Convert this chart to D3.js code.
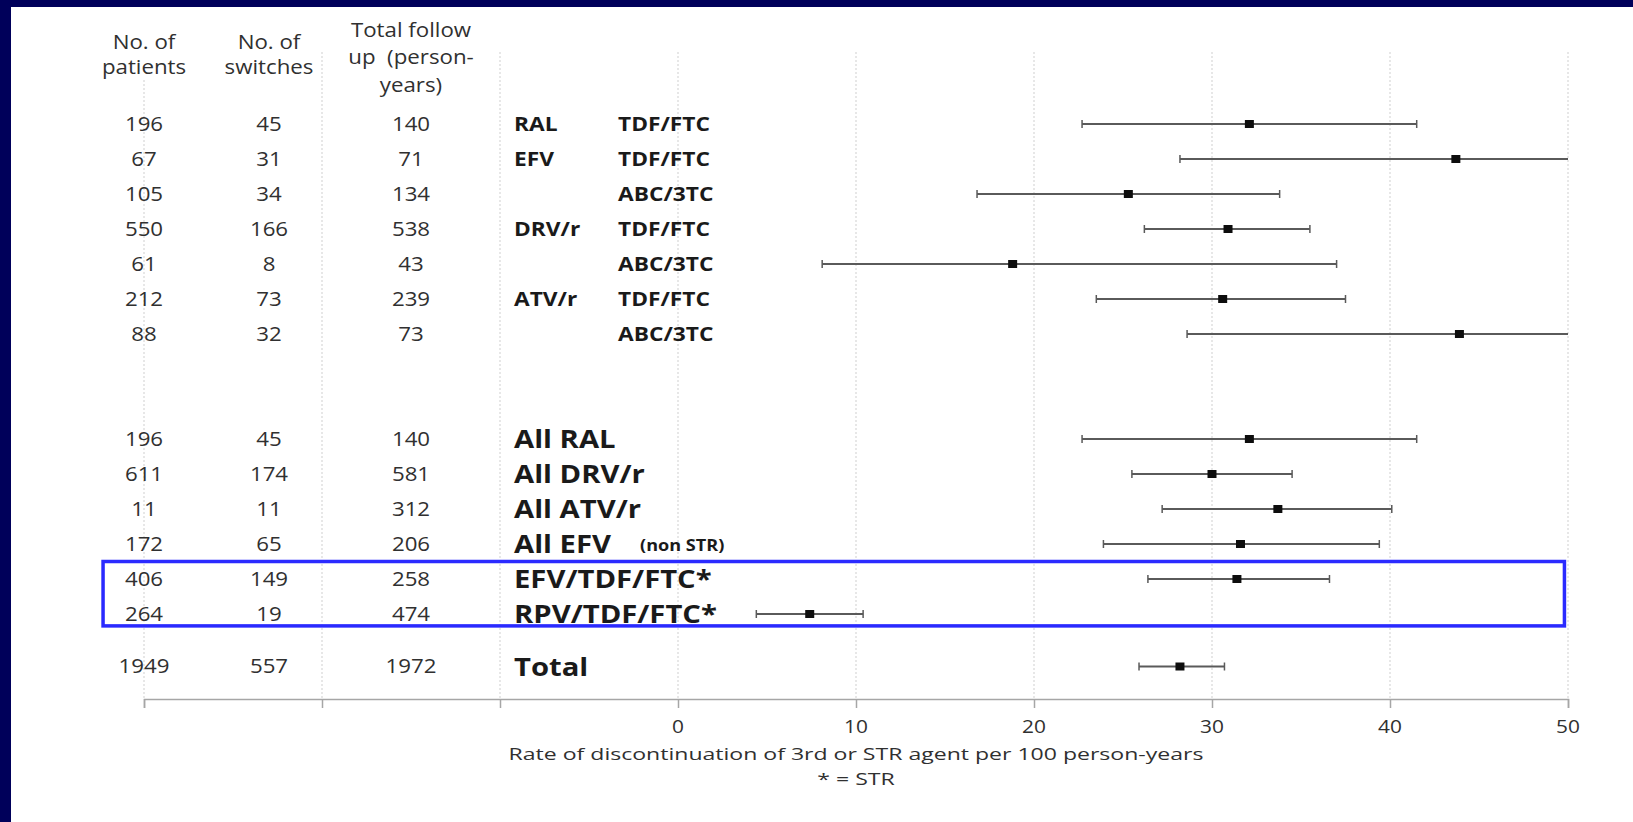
<!DOCTYPE html>
<html>
<head>
<meta charset="utf-8">
<script src="https://cdn.jsdelivr.net/npm/d3@7"></script>
<style>
  html, body { margin: 0; padding: 0; background: #00005a; }
  svg { display: block; }
  text { white-space: pre; }
</style>
</head>
<body>
<div id="chart"></div>
<script>
/* Forest plot - discontinuation rate of 3rd or STR agent */

// Table columns
const patients = [196, 67, 105, 550, 61, 212, 88, 196, 611, 11, 172, 406, 264, 1949];
const switches = [45, 31, 34, 166, 8, 73, 32, 45, 174, 11, 65, 149, 19, 557];
const followUp = [140, 71, 134, 538, 43, 239, 73, 140, 581, 312, 206, 258, 474, 1972];

// Row slot on the vertical axis (gaps between the blocks)
const rowSlot = [0, 1, 2, 3, 4, 5, 6, 9, 10, 11, 12, 13, 14, 15.5];

// Regimen labels: detail rows use two columns, summary rows one big label
const thirdAgent = ['RAL', 'EFV', '', 'DRV/r', '', 'ATV/r', ''];
const backbone = ['TDF/FTC', 'TDF/FTC', 'ABC/3TC', 'TDF/FTC', 'ABC/3TC', 'TDF/FTC', 'ABC/3TC'];
const summaryLabels = ['All RAL', 'All DRV/r', 'All ATV/r', 'All EFV', 'EFV/TDF/FTC*', 'RPV/TDF/FTC*', 'Total'];
const summaryNote = ['', '', '', '(non STR)', '', '', ''];

// Rate per 100 person-years with 95% CI
const rate = [32.1, 43.7, 25.3, 30.9, 18.8, 30.6, 43.9, 32.1, 30.0, 33.7, 31.6, 31.4, 7.4, 28.2];
const lower = [22.7, 28.2, 16.8, 26.2, 8.1, 23.5, 28.6, 22.7, 25.5, 27.2, 23.9, 26.4, 4.4, 25.9];
const upper = [41.5, 67.5, 33.8, 35.5, 37.0, 37.5, 67.0, 41.5, 34.5, 40.1, 39.4, 36.6, 10.4, 30.7];

// Axis
const xDomain = [-30, 50];
const xTickValues = [-30, -20, -10, 0, 10, 20, 30, 40, 50];
const headers = [
  { lines: ['No. of', 'patients'], col: 'patients' },
  { lines: ['No. of', 'switches'], col: 'switches' },
  { lines: ['Total follow', 'up  (person-', 'years)'], col: 'followUp' }
];
const axisTitle = 'Rate of discontinuation of 3rd or STR agent per 100 person-years';
const axisNote = '* = STR';

function initForest() {
  const width = 1633;
  const height = 822;
  const FONT = '"Open Sans", Lato, sans-serif';
  const STRETCH = 1.16; // the slide text is widened horizontally

  const svg = d3.select('#chart')
    .append('svg')
    .attr('width', width)
    .attr('height', height);

  // Navy slide frame, white panel
  svg.append('rect').attr('width', width).attr('height', height).attr('fill', '#00005a');
  svg.append('rect').attr('x', 11).attr('y', 7)
    .attr('width', width - 11).attr('height', height - 7).attr('fill', '#ffffff');

  const plotTop = 52;
  const axisY = 699;

  const x = d3.scaleLinear().domain(xDomain).range([144, 1568]);
  const y = d3.scaleLinear().domain([0, 15.5]).range([124, 666.5]);

  const colX = { patients: x(-30), switches: 269, followUp: 411 };

  function addText(parent, tx, ty, str, opts) {
    opts = opts || {};
    return parent.append('text')
      .attr('transform', `translate(${tx},${ty}) scale(${opts.stretch || STRETCH},1)`)
      .attr('text-anchor', opts.anchor || 'middle')
      .attr('dy', '0.36em')
      .attr('fill', opts.fill || '#303030')
      .attr('font-family', FONT)
      .attr('font-size', (opts.size || 19.2) + 'px')
      .attr('font-weight', opts.weight || 'normal')
      .text(str);
  }

  // Gridlines
  const grid = svg.append('g');
  grid.selectAll('.grid-line')
    .data(xTickValues)
    .enter()
    .append('line')
    .attr('class', 'grid-line')
    .attr('x1', d => x(d))
    .attr('x2', d => x(d))
    .attr('y1', plotTop)
    .attr('y2', axisY)
    .attr('stroke', '#cfcfcf')
    .attr('stroke-width', 1)
    .attr('stroke-dasharray', '2,2');

  // Headers (white boxes hide the gridline behind them)
  const headerLineY = [[41.7, 67.5], [41.7, 67.5], [30, 57.5, 85]];
  const headG = svg.append('g');
  headers.forEach((h, i) => {
    h.lines.forEach((line, j) => {
      const t = addText(headG, colX[h.col], headerLineY[i][j], line);
      const bb = t.node().getBBox();
      headG.insert('rect', 'text')
        .attr('x', colX[h.col] + bb.x * STRETCH - 2)
        .attr('y', headerLineY[i][j] + bb.y)
        .attr('width', bb.width * STRETCH + 4)
        .attr('height', bb.height)
        .attr('fill', '#ffffff');
    });
  });

  // Table numbers
  const tableG = svg.append('g');
  rowSlot.forEach((slot, i) => {
    addText(tableG, colX.patients, y(slot), patients[i]);
    addText(tableG, colX.switches, y(slot), switches[i]);
    addText(tableG, colX.followUp, y(slot), followUp[i]);
  });

  // Regimen labels
  const labelG = svg.append('g');
  const bold = { anchor: 'start', weight: 'bold', fill: '#1a1a1a', size: 19.6 };
  thirdAgent.forEach((d, i) => {
    if (d) addText(labelG, 514, y(rowSlot[i]), d, bold);
    addText(labelG, 618, y(rowSlot[i]), backbone[i], bold);
  });
  summaryLabels.forEach((d, i) => {
    const slot = rowSlot[thirdAgent.length + i];
    addText(labelG, 514, y(slot), d, Object.assign({}, bold, { size: 25.2 }));
    if (summaryNote[i]) {
      addText(labelG, 640, y(slot) + 1, summaryNote[i], Object.assign({}, bold, { size: 15.6 }));
    }
  });

  // Error bars
  const barG = svg.append('g');
  const maxX = xDomain[1];
  barG.selectAll('.ci-line')
    .data(rate)
    .enter()
    .append('line')
    .attr('class', 'ci-line')
    .attr('x1', (d, i) => x(lower[i]))
    .attr('x2', (d, i) => x(Math.min(upper[i], maxX)))
    .attr('y1', (d, i) => y(rowSlot[i]))
    .attr('y2', (d, i) => y(rowSlot[i]))
    .attr('stroke', '#5a5a5a')
    .attr('stroke-width', 2);

  const caps = [];
  rate.forEach((d, i) => {
    caps.push({ v: lower[i], slot: rowSlot[i] });
    if (upper[i] <= maxX) caps.push({ v: upper[i], slot: rowSlot[i] });
  });
  barG.selectAll('.ci-cap')
    .data(caps)
    .enter()
    .append('line')
    .attr('class', 'ci-cap')
    .attr('x1', d => x(d.v))
    .attr('x2', d => x(d.v))
    .attr('y1', d => y(d.slot) - 4)
    .attr('y2', d => y(d.slot) + 4)
    .attr('stroke', '#5a5a5a')
    .attr('stroke-width', 1.5);

  barG.selectAll('.ci-point')
    .data(rate)
    .enter()
    .append('rect')
    .attr('class', 'ci-point')
    .attr('x', d => x(d) - 4.5)
    .attr('y', (d, i) => y(rowSlot[i]) - 4)
    .attr('width', 9)
    .attr('height', 8)
    .attr('fill', '#0d0d0d');

  // X axis (labels only on the rate part of the axis)
  const axis = svg.append('g')
    .attr('transform', `translate(0,${axisY})`)
    .call(d3.axisBottom(x)
      .tickValues(xTickValues)
      .tickSize(9)
      .tickPadding(0)
      .tickFormat(''));
  axis.selectAll('line, path').attr('stroke', '#a6a6a6').attr('stroke-width', 1.5);

  const tickG = svg.append('g');
  xTickValues.filter(d => d >= 0).forEach(d => {
    addText(tickG, x(d), 726.5, d, { size: 18 });
  });

  // Axis title
  const midX = (x.range()[0] + x.range()[1]) / 2;
  addText(svg, midX, 754, axisTitle, { size: 17.2, stretch: 1.34 });
  addText(svg, midX, 779, axisNote, { size: 17.2, stretch: 1.34 });

  // STR highlight box
  svg.append('rect')
    .attr('x', x(-32.3))
    .attr('y', y(12.5))
    .attr('width', x(49.8) - x(-32.3))
    .attr('height', y(14.34) - y(12.5))
    .attr('fill', 'none')
    .attr('stroke', '#2a2aff')
    .attr('stroke-width', 3.5);
}

initForest();
</script>
</body>
</html>
